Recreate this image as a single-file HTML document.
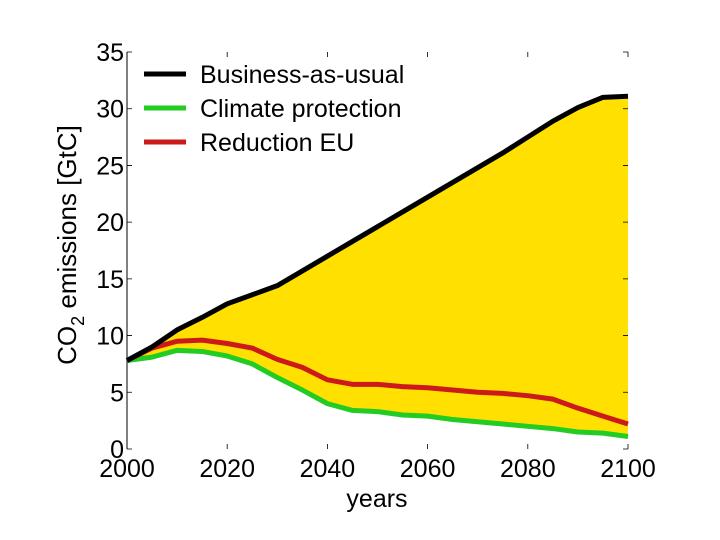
<!DOCTYPE html>
<html><head><meta charset="utf-8"><style>
body{margin:0;background:#fff;}
svg{display:block;font-family:"Liberation Sans",sans-serif;}
</style></head><body>
<svg id="chart" width="720" height="540" viewBox="0 0 720 540"></svg>
<script>
const years=[2000,2005,2010,2015,2020,2025,2030,2035,2040,2045,2050,2055,2060,2065,2070,2075,2080,2085,2090,2095,2100];
const bau=[7.8,9,10.5,11.6,12.8,13.6,14.4,15.7,17,18.3,19.6,20.9,22.2,23.5,24.8,26.1,27.5,28.9,30.1,31.0,31.1];
const redEU=[7.8,8.9,9.5,9.6,9.3,8.9,7.9,7.2,6.1,5.7,5.7,5.5,5.4,5.2,5.0,4.9,4.7,4.4,3.6,2.9,2.2];
const climate=[7.8,8.1,8.7,8.6,8.2,7.5,6.3,5.2,4.0,3.4,3.3,3.0,2.9,2.6,2.4,2.2,2.0,1.8,1.5,1.4,1.1];
const xTicks=[2000,2020,2040,2060,2080,2100];
const yTicks=[0,5,10,15,20,25,30,35];
const X0=127,X1=628,Y0=449,Y1=52;
const sx=v=>X0+(v-2000)/100*(X1-X0);
const sy=v=>Y0-v/35*(Y0-Y1);
const svg=document.getElementById('chart');
const NS='http://www.w3.org/2000/svg';
function mk(t,a,txt){const e=document.createElementNS(NS,t);for(const k in a)e.setAttribute(k,a[k]);if(txt!==undefined)e.textContent=txt;svg.appendChild(e);return e;}
let d='M'+years.map((y,i)=>sx(y)+','+sy(bau[i])).join('L');
for(let i=years.length-1;i>=0;i--)d+='L'+sx(years[i])+','+sy(climate[i]);
const f=mk('path',{d:d+'Z',fill:'#ffe000',stroke:'none'});


xTicks.forEach(t=>{
 const tk=mk('path',{d:`M${sx(t)},${Y0}v-5M${sx(t)},${Y1}v5`,stroke:'#000','stroke-width':0.8});
 
 
 const l=mk('text',{x:sx(t),y:Y0+28,'text-anchor':'middle','font-size':25,fill:'#000'},t);
 
 
});
yTicks.forEach(t=>{
 const tk=mk('path',{d:`M${X0},${sy(t)}h5M${X1},${sy(t)}h-5`,stroke:'#000','stroke-width':0.8});
 
 
 const l=mk('text',{x:X0-3,y:sy(t)+9,'text-anchor':'end','font-size':25,fill:'#000'},t);
 
 
});
const ax=mk('path',{d:`M${X0},${Y1}V${Y0}`,stroke:'#000','stroke-width':1});


[[climate,'#22cc22','climate-line'],[redEU,'#cc1a1a','reduction-eu-line'],[bau,'#000','bau-line']].forEach(([arr,c,n])=>{
 const p=mk('polyline',{points:years.map((y,i)=>sx(y)+','+sy(arr[i])).join(' '),fill:'none',stroke:c,'stroke-width':5,'stroke-linejoin':'round'});
 
 
});
[['Business-as-usual','#000'],['Climate protection','#22cc22'],['Reduction EU','#cc1a1a']].forEach(([t,c],i)=>{
 const y=74+i*34;
 const ln=mk('line',{x1:144,x2:186,y1:y,y2:y,stroke:c,'stroke-width':5});
 
 
 const tx=mk('text',{x:200,y:y+9,'font-size':25,fill:'#000'},t);
 
 
});
const xt=mk('text',{x:377,y:507,'text-anchor':'middle','font-size':25,fill:'#000'},'years');


const yt=mk('text',{transform:'translate(76,245) rotate(-90)','text-anchor':'middle','font-size':26,fill:'#000'});


yt.innerHTML='CO<tspan dy="8" font-size="18">2</tspan><tspan dy="-8"> emissions [GtC]</tspan>';
</script>
</body></html>
